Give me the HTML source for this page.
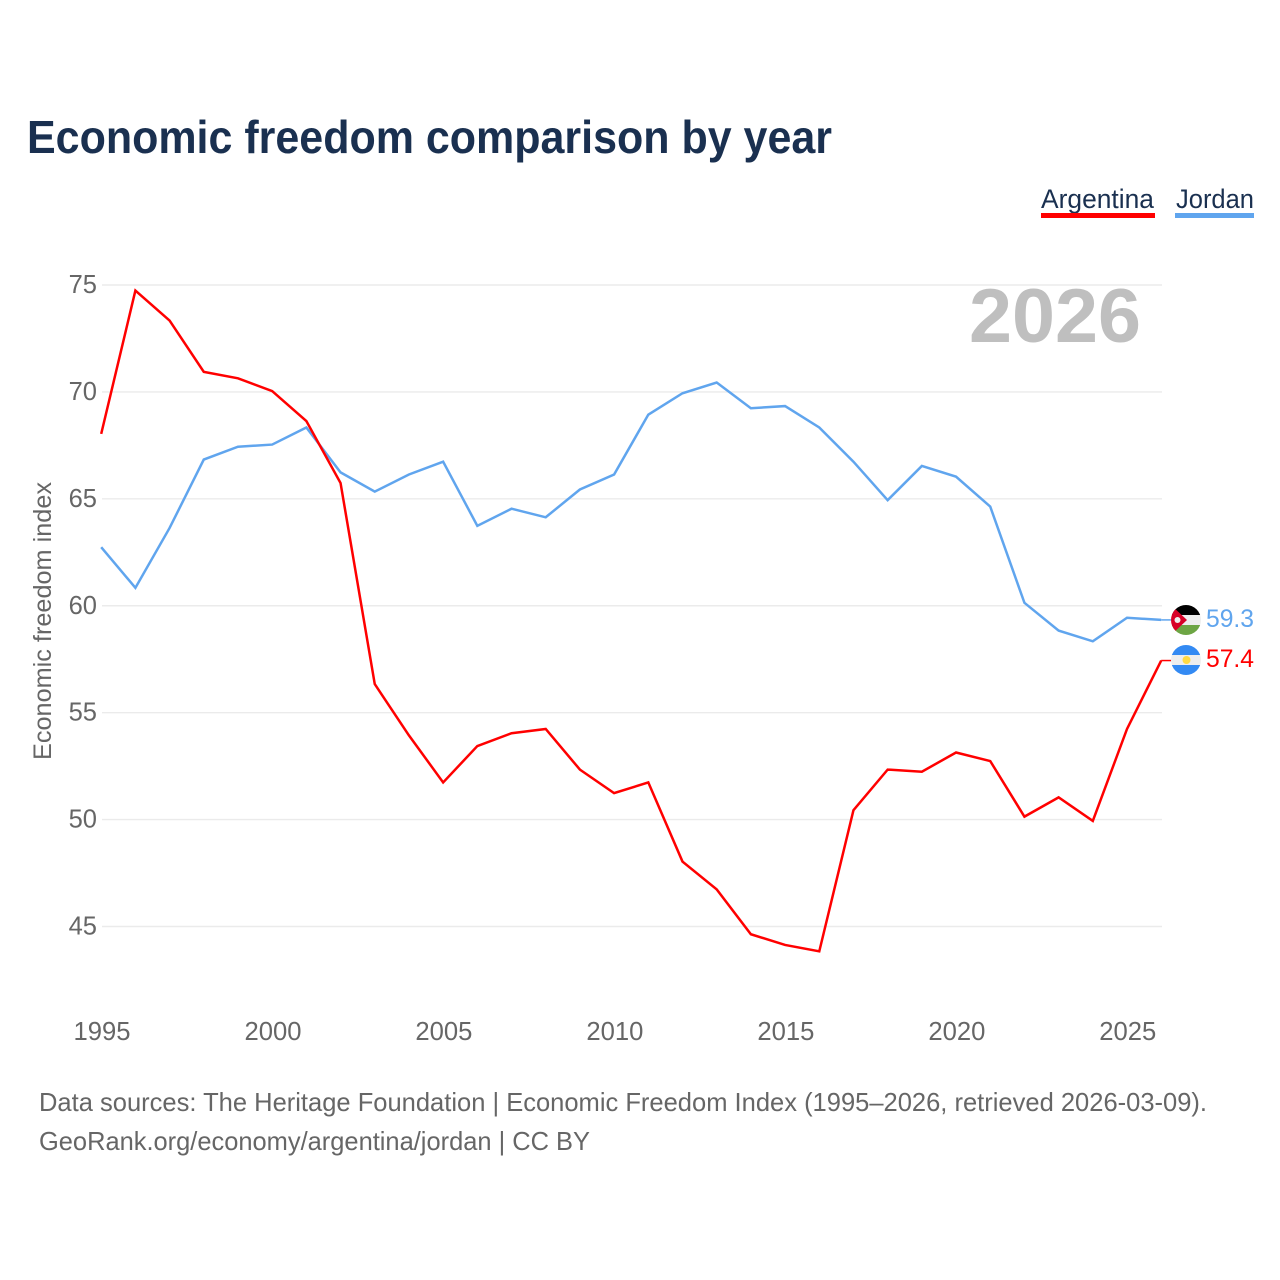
<!DOCTYPE html>
<html lang="en">
<head>
<meta charset="utf-8">
<title>Economic freedom comparison by year</title>
<style>
html,body{margin:0;padding:0;background:#fff;}
svg{display:block;}
text{font-family:"Liberation Sans",sans-serif;}
</style>
</head>
<body>
<svg id="chart" xmlns="http://www.w3.org/2000/svg" width="1280" height="1280" viewBox="0 0 1280 1280">
  <rect width="1280" height="1280" fill="#ffffff"/>
  <text x="27" y="153" font-size="46" font-weight="700" fill="#1a3050" textLength="805" lengthAdjust="spacingAndGlyphs">Economic freedom comparison by year</text>

  <g>
    <text x="1041" y="208" font-size="27" fill="#1a3050" textLength="113" lengthAdjust="spacingAndGlyphs">Argentina</text>
    <rect x="1041" y="213" width="114" height="5" fill="#ff0000"/>
  </g>
  <g>
    <text x="1176" y="208" font-size="27" fill="#1a3050" textLength="78" lengthAdjust="spacingAndGlyphs">Jordan</text>
    <rect x="1175" y="213" width="79" height="5" fill="#60a5ee"/>
  </g>

  <text transform="translate(51,621) rotate(-90)" text-anchor="middle" font-size="25" fill="#666666" textLength="278" lengthAdjust="spacingAndGlyphs">Economic freedom index</text>

  <g id="grid"></g>
  <g id="yticks"></g>
  <g id="xticks"></g>

  <text x="969" y="342" font-size="76" font-weight="700" fill="#bfbfbf" textLength="172" lengthAdjust="spacingAndGlyphs">2026</text>

  <g id="series"></g>

  <defs>
    <clipPath id="clip-jordan"><circle cx="1186" cy="620" r="15"/></clipPath>
    <clipPath id="clip-argentina"><circle cx="1186" cy="660" r="15"/></clipPath>
  </defs>

  <g clip-path="url(#clip-jordan)">
    <rect x="1171" y="605" width="30" height="10" fill="#000000"/>
    <rect x="1171" y="615" width="30" height="10" fill="#eeeeee"/>
    <rect x="1171" y="625" width="30" height="10" fill="#6da544"/>
    <polygon points="1171,605 1187,620 1171,635" fill="#d80027"/>
    <circle cx="1177.5" cy="620" r="3" fill="#eeeeee"/>
  </g>
  <g clip-path="url(#clip-argentina)">
    <rect x="1171" y="645" width="30" height="10" fill="#338af3"/>
    <rect x="1171" y="655" width="30" height="10" fill="#eeeeee"/>
    <rect x="1171" y="665" width="30" height="10" fill="#338af3"/>
    <circle cx="1186.5" cy="660" r="4" fill="#ffda44"/>
  </g>

  <text x="1206" y="627" font-size="25" fill="#60a5ee" textLength="48" lengthAdjust="spacingAndGlyphs">59.3</text>
  <text x="1206" y="667" font-size="25" fill="#ff0000" textLength="48" lengthAdjust="spacingAndGlyphs">57.4</text>

  <text x="39" y="1111" font-size="26" fill="#666666" textLength="1168" lengthAdjust="spacingAndGlyphs">Data sources: The Heritage Foundation | Economic Freedom Index (1995–2026, retrieved 2026-03-09).</text>
  <text x="39" y="1150" font-size="26" fill="#666666" textLength="551" lengthAdjust="spacingAndGlyphs">GeoRank.org/economy/argentina/jordan | CC BY</text>
</svg>
<script>
const years = [1995,1996,1997,1998,1999,2000,2001,2002,2003,2004,2005,2006,2007,2008,2009,2010,2011,2012,2013,2014,2015,2016,2017,2018,2019,2020,2021,2022,2023,2024,2025,2026];
const argentina = [68.0,74.7,73.3,70.9,70.6,70.0,68.6,65.7,56.3,53.9,51.7,53.4,54.0,54.2,52.3,51.2,51.7,48.0,46.7,44.6,44.1,43.8,50.4,52.3,52.2,53.1,52.7,50.1,51.0,49.9,54.2,57.4];
const jordan = [62.7,60.8,63.6,66.8,67.4,67.5,68.3,66.2,65.3,66.1,66.7,63.7,64.5,64.1,65.4,66.1,68.9,69.9,70.4,69.2,69.3,68.3,66.7,64.9,66.5,66.0,64.6,60.1,58.8,58.3,59.4,59.3];
const yTickValues = [45,50,55,60,65,70,75];
const xTickValues = [1995,2000,2005,2010,2015,2020,2025];

const NS = 'http://www.w3.org/2000/svg';
function xScale(year){ return 102 + (year - 1995) * (1162 - 102) / (2026 - 1995); }
function yScale(v){ return 926.5 - (v - 45) * (926.5 - 285) / (75 - 45); }
function make(tag, attrs, parent){
  const el = document.createElementNS(NS, tag);
  for (const k in attrs) el.setAttribute(k, attrs[k]);
  parent.appendChild(el);
  return el;
}
const gridG = document.getElementById('grid');
const yG = document.getElementById('yticks');
const xG = document.getElementById('xticks');
const seriesG = document.getElementById('series');
seriesG.setAttribute('transform', 'translate(-0.8,-0.8)');

yTickValues.forEach(function(v){
  const line = make('line', {x1:102, x2:1162, y1:yScale(v), y2:yScale(v), stroke:'#ebebeb', 'stroke-width':1.4}, gridG);
  
  
  const t = make('text', {x:97, y:yScale(v) + 8, 'text-anchor':'end', 'font-size':25.5, fill:'#666666'}, yG);
  
  
  t.textContent = v;
});
xTickValues.forEach(function(y){
  const t = make('text', {x:xScale(y), y:1040, 'text-anchor':'middle', 'font-size':25.5, fill:'#666666', textLength:57, lengthAdjust:'spacingAndGlyphs'}, xG);
  
  
  t.textContent = y;
});
function drawSeries(values, color, name){
  const pts = values.map(function(v, i){ return xScale(years[i]).toFixed(2) + ',' + yScale(v).toFixed(2); });
  const p = make('polyline', {points:pts.join(' '), fill:'none', stroke:color, 'stroke-width':2.5, 'stroke-linejoin':'miter'}, seriesG);
  
  
  const last = values[values.length - 1];
  const c = make('line', {x1:xScale(years[years.length - 1]), y1:yScale(last), x2:1172, y2:yScale(last), stroke:color, 'stroke-width':1.5}, seriesG);
  
  
}
drawSeries(jordan, '#60a5ee', 'jordan');
drawSeries(argentina, '#ff0000', 'argentina');
</script>
</body>
</html>
